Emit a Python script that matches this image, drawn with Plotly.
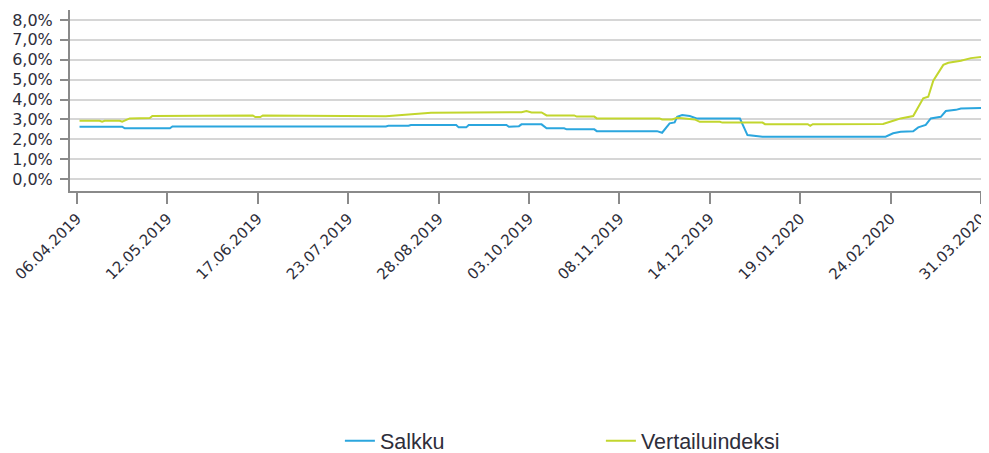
import plotly.graph_objects as go

# Salkku (portfolio) – breakpoints
salkku_dates = [
    "2019-04-07", "2019-04-24", "2019-04-25", "2019-05-13", "2019-05-14",
    "2019-08-07", "2019-08-08", "2019-08-16", "2019-08-17", "2019-09-04",
    "2019-09-05", "2019-09-08", "2019-09-09", "2019-09-24", "2019-09-25",
    "2019-09-29", "2019-09-30", "2019-10-08", "2019-10-10", "2019-10-17",
    "2019-10-18", "2019-10-29", "2019-10-30", "2019-11-23", "2019-11-25",
    "2019-11-28", "2019-11-30", "2019-12-01", "2019-12-03", "2019-12-06",
    "2019-12-09", "2019-12-26", "2019-12-29", "2020-01-04", "2020-02-22",
    "2020-02-25", "2020-02-28", "2020-03-04", "2020-03-06", "2020-03-09",
    "2020-03-11", "2020-03-15", "2020-03-17", "2020-03-21", "2020-03-23",
    "2020-03-31",
]
salkku_values = [
    2.63, 2.63, 2.55, 2.55, 2.64,
    2.64, 2.68, 2.68, 2.72, 2.72,
    2.60, 2.60, 2.72, 2.72, 2.63,
    2.66, 2.75, 2.75, 2.55, 2.55,
    2.50, 2.50, 2.41, 2.41, 2.33,
    2.80, 2.85, 3.13, 3.22, 3.17,
    3.04, 3.04, 2.21, 2.13, 2.13,
    2.30, 2.38, 2.40, 2.60, 2.72,
    3.05, 3.13, 3.42, 3.48, 3.55,
    3.57,
]

# Vertailuindeksi (benchmark index)
vertailu_dates = [
    "2019-04-07", "2019-04-15", "2019-04-16", "2019-04-17", "2019-04-23",
    "2019-04-24", "2019-04-27", "2019-05-05", "2019-05-06", "2019-05-22",
    "2019-05-23", "2019-06-15", "2019-06-16", "2019-06-18", "2019-06-19",
    "2019-07-21", "2019-07-22", "2019-08-07", "2019-08-25", "2019-09-30",
    "2019-10-02", "2019-10-04", "2019-10-08", "2019-10-10", "2019-10-21",
    "2019-10-22", "2019-10-29", "2019-10-30", "2019-11-24", "2019-11-25",
    "2019-11-29", "2019-12-01", "2019-12-08", "2019-12-10", "2019-12-18",
    "2019-12-19", "2020-01-04", "2020-01-05", "2020-01-22", "2020-01-23",
    "2020-01-24", "2020-02-21", "2020-02-26", "2020-02-28", "2020-03-04",
    "2020-03-08", "2020-03-10", "2020-03-12", "2020-03-16", "2020-03-18",
    "2020-03-23", "2020-03-27", "2020-03-31",
]
vertailu_values = [
    2.93, 2.93, 2.88, 2.93, 2.93,
    2.88, 3.05, 3.07, 3.17, 3.17,
    3.20, 3.20, 3.12, 3.12, 3.20,
    3.17, 3.14, 3.16, 3.34, 3.36,
    3.42, 3.35, 3.35, 3.20, 3.20,
    3.14, 3.14, 3.05, 3.05, 3.00,
    3.00, 3.08, 3.00, 2.88, 2.88,
    2.84, 2.84, 2.76, 2.76, 2.68,
    2.76, 2.77, 2.97, 3.05, 3.17,
    4.06, 4.14, 4.95, 5.74, 5.85,
    5.95, 6.08, 6.14,
]

x_tick_vals = [
    "2019-04-06", "2019-05-12", "2019-06-17", "2019-07-23", "2019-08-28",
    "2019-10-03", "2019-11-08", "2019-12-14", "2020-01-19", "2020-02-24",
    "2020-03-31",
]
x_tick_text = [
    "06.04.2019", "12.05.2019", "17.06.2019", "23.07.2019", "28.08.2019",
    "03.10.2019", "08.11.2019", "14.12.2019", "19.01.2020", "24.02.2020",
    "31.03.2020",
]
y_tick_vals = [0, 1, 2, 3, 4, 5, 6, 7, 8]
y_tick_text = ["0,0%", "1,0%", "2,0%", "3,0%", "4,0%", "5,0%", "6,0%", "7,0%", "8,0%"]

fig = go.Figure()
fig.add_trace(go.Scatter(
    x=salkku_dates, y=salkku_values, name="Salkku", mode="lines",
    line=dict(color="#2ba6de", width=2),
))
fig.add_trace(go.Scatter(
    x=vertailu_dates, y=vertailu_values, name="Vertailuindeksi", mode="lines",
    line=dict(color="#c2d62e", width=2),
))

x_font = dict(family="DejaVu Sans", size=15, color="#2e2e3a")
y_font = dict(family="DejaVu Sans", size=16, color="#2e2e3a")

# the page body has an 8px margin, so the figure is 8px smaller than the window
fig.update_layout(
    width=981, height=445,
    margin=dict(l=62, r=1, t=2, b=262, autoexpand=False),
    paper_bgcolor="white", plot_bgcolor="white",
    showlegend=True,
    legend=dict(
        orientation="h", x=0.294, xanchor="left", y=-1.38, yanchor="middle",
        font=dict(family="Liberation Sans", size=21.5, color="#2e2e3a"),
        entrywidth=216, entrywidthmode="pixels",
        bgcolor="rgba(0,0,0,0)",
    ),
    xaxis=dict(
        type="date",
        range=["2019-04-03 05:00", "2020-04-02 19:00"],
        tickmode="array", tickvals=x_tick_vals, ticktext=x_tick_text,
        tickangle=-45, tickfont=x_font, automargin=False,
        ticklabeloverflow="allow",
        ticks="outside", ticklen=11, tickwidth=2, tickcolor="#8a8a8a",
        showline=True, linecolor="#8a8a8a", linewidth=2,
        showgrid=False, zeroline=False,
    ),
    yaxis=dict(
        range=[-0.6, 8.5],
        tickmode="array", tickvals=y_tick_vals, ticktext=y_tick_text,
        tickfont=y_font, automargin=False, ticklabelstandoff=4,
        ticks="outside", ticklen=8, tickwidth=2, tickcolor="#8a8a8a",
        showline=True, linecolor="#8a8a8a", linewidth=2,
        showgrid=True, gridcolor="#d6d6d6", gridwidth=2,
        zeroline=False,
    ),
)

fig.write_html("out.html")
